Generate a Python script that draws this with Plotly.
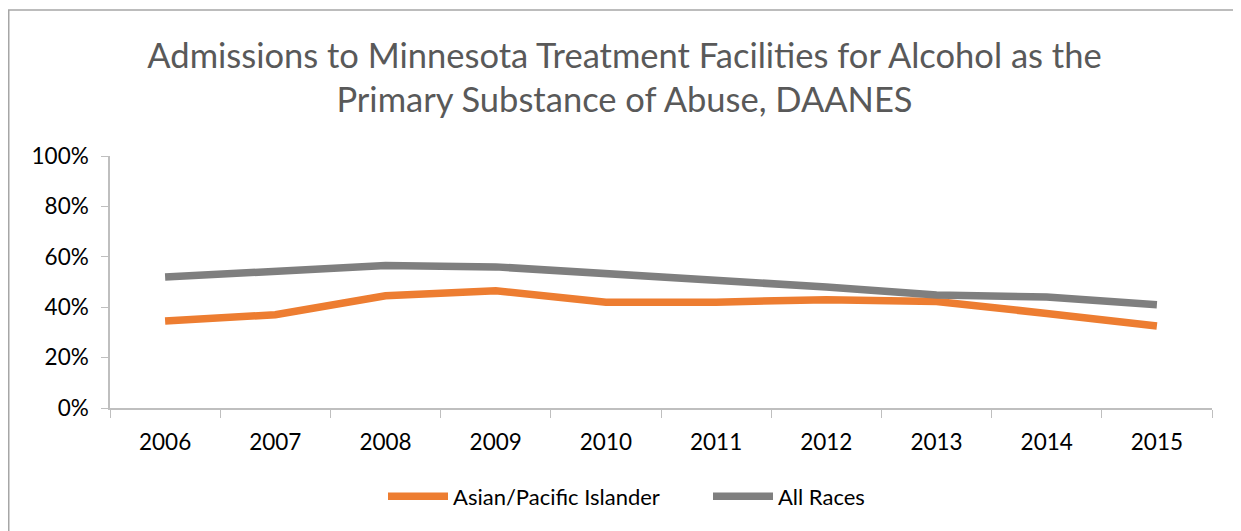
import plotly.graph_objects as go

# Data (share of admissions)
years = ['2006', '2007', '2008', '2009', '2010', '2011', '2012', '2013', '2014', '2015']
asian_pacific = [0.345, 0.370, 0.445, 0.465, 0.420, 0.420, 0.430, 0.423, 0.375, 0.325]
all_races = [0.520, 0.540, 0.565, 0.560, 0.535, 0.510, 0.480, 0.448, 0.440, 0.410]

title_text = ('Admissions to Minnesota Treatment Facilities for Alcohol as the<br>'
              'Primary Substance of Abuse, DAANES')

# the page adds an 8px body margin, so the figure is 8px smaller than the window
W, H = 1233, 523
ml, mr, mt, mb = 102, 29, 148, 123
pw, ph = W - ml - mr, H - mt - mb

fig = go.Figure()
fig.add_trace(go.Scatter(
    x=years, y=asian_pacific, name='Asian/Pacific Islander', mode='lines',
    line={'color': '#ED7D31', 'width': 7.5},
))
fig.add_trace(go.Scatter(
    x=years, y=all_races, name='All Races', mode='lines',
    line={'color': '#7F7F7F', 'width': 7.5},
))

fig.update_layout(
    width=W, height=H,
    margin={'l': ml, 'r': mr, 't': mt, 'b': mb, 'autoexpand': False},
    paper_bgcolor='white', plot_bgcolor='white',
    font={'family': 'Lato, Open Sans, sans-serif', 'color': '#000000', 'size': 22},
    title={'text': title_text, 'x': 0.5, 'xanchor': 'center', 'y': 0.886, 'yanchor': 'top',
           'font': {'size': 34.5, 'color': '#595959', 'family': 'Lato, Open Sans, sans-serif'}},
    showlegend=True,
    legend={'orientation': 'h', 'x': (375 - ml) / pw, 'xanchor': 'left',
            'y': -0.268, 'yanchor': 'top', 'entrywidth': 250,
            'font': {'size': 22}, 'itemwidth': 60, 'traceorder': 'normal'},
)

fig.update_xaxes(
    type='category', range=[-0.5, 9.5], showgrid=False, showline=True,
    linecolor='#BFBFBF', linewidth=1.5,
    ticks='outside', tickson='boundaries', ticklen=8, tickcolor='#BFBFBF',
    tickfont={'size': 22.5}, ticklabelstandoff=13, automargin=False,
)
fig.update_yaxes(
    range=[0, 1], dtick=0.2, tickformat='.0%', showgrid=False, zeroline=False,
    showline=True, linecolor='#BFBFBF', linewidth=1.5,
    ticks='outside', ticklen=7, tickcolor='#BFBFBF', tickfont={'size': 22.5},
    ticklabelstandoff=8, automargin=False,
)

# outer chart frame (only its top and left edges fall inside the picture)
fig.add_shape(
    type='rect', xref='paper', yref='paper', layer='below',
    x0=(0.75 - ml) / pw, x1=(W + 10 - ml) / pw,
    y0=-(H + 10 - mt - ph) / ph, y1=(mt - 2 + ph) / ph,
    line={'color': '#A6A6A6', 'width': 1.5}, fillcolor='rgba(0,0,0,0)',
)

fig.write_html("out.html")
